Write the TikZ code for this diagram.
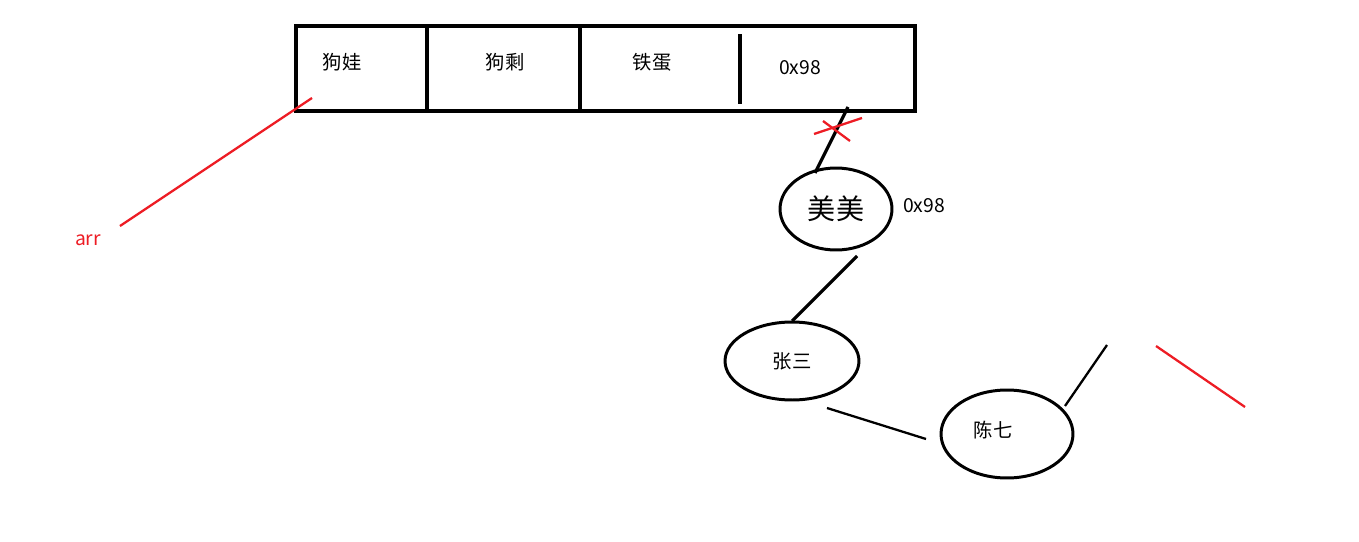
\documentclass[tikz,border=0pt]{standalone}
\usepackage{fontspec}
\setmainfont{Noto Sans CJK SC}
\usepackage{xcolor}
\usetikzlibrary{positioning,shapes.geometric}
\definecolor{paintred}{RGB}{237,28,36}
\tikzset{
  cell/.style={font=\fontsize{11}{13}\selectfont, inner sep=0pt},
  person/.style={ellipse, draw, line width=1.7pt, inner sep=0pt, font=\fontsize{11}{13}\selectfont},
  stroke/.style={line width=1.8pt},
  redstroke/.style={line width=1.3pt, draw=paintred}
}
\begin{document}
\begin{tikzpicture}[x=0.02cm,y=-0.02cm]
\useasboundingbox (0,0) rectangle (1359,541);
% the array
\draw [stroke] (296,26) rectangle (915,111);
\draw [stroke] (427,26) -- (427,111);
\draw [stroke] (580,26) -- (580,111);
\draw [stroke] (740,34) -- (740,104);
\node[cell] (gouwa) at (342,62) {狗娃};
\node[cell] (gousheng) at (505,62) {狗剩};
\node[cell] (tiedan) at (652,62) {铁蛋};
\node[cell] (addr) at (800,68) {0x98};
% arr points at the array
\node[cell, text=paintred] (arr) at (88,240) {arr};
\coordinate (arrtip) at (312,98);
\coordinate (arrend) at (120,226);
\draw [redstroke] (arrtip) -- (arrend);
% the chain
\node[person, minimum width=2.24cm, minimum height=1.64cm, font=\fontsize{16}{19}\selectfont] (meimei) at (836,209) {美美};
\node[cell] (meiaddr) at (924,206) {0x98};
\node[person, minimum width=2.68cm, minimum height=1.56cm] (zhangsan) at (792,361) {张三};
\node[person, minimum width=2.64cm, minimum height=1.76cm] (chenqi) at (1007,434) {};
\node[cell] (chenqitext) at (993,430) {陈七};
\coordinate (c1) at (848,107);
\coordinate (c2) at (815,173);
\draw [stroke] (c1) -- (c2);
%\draw [redstroke] (817,132) -- (866,118);
\coordinate (x1) at (814,134);
\coordinate (x2) at (862,118);
\coordinate (x3) at (823,121);
\coordinate (x4) at (850,141);
\draw [redstroke] (x1) -- (x2);
\draw [redstroke] (x3) -- (x4);
\coordinate (m1) at (857,256);
\coordinate (z1) at (792,321);
\draw [stroke] (m1) -- (z1);
\coordinate (z2) at (827,408);
\coordinate (q1) at (926,439);
\draw [line width=1.3pt] (z2) -- (q1);
\coordinate (q2) at (1065,406);
\coordinate (q3) at (1107,345);
\draw [line width=1.3pt] (q2) -- (q3);
\coordinate (r1) at (1156,346);
\coordinate (r2) at (1245,407);
\draw [redstroke] (r1) -- (r2);
\end{tikzpicture}
\end{document}
